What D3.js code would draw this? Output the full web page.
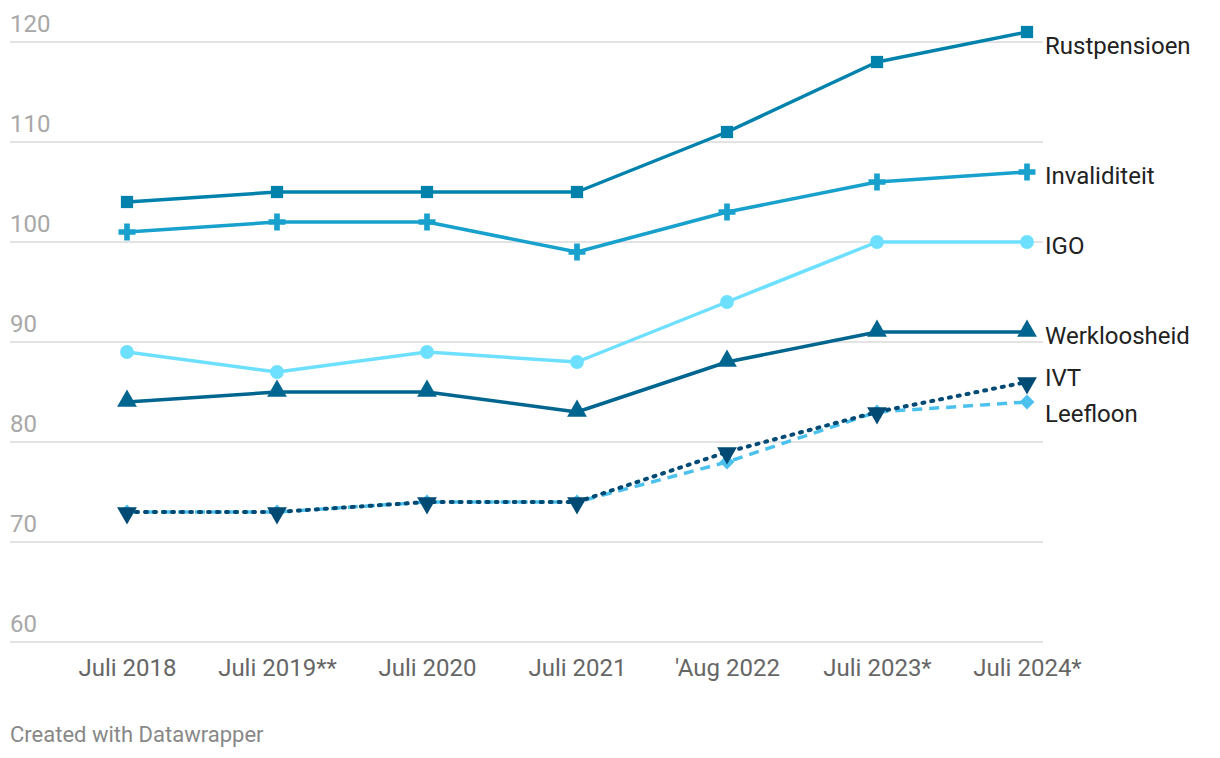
<!DOCTYPE html>
<html><head><meta charset="utf-8">
<script src="https://cdn.jsdelivr.net/npm/d3@7"></script>
<style>
html,body{margin:0;padding:0;background:#fff;}
svg{display:block;font-family:Roboto,"Noto Sans",sans-serif;}
</style></head>
<body><svg id="chart" width="1220" height="758"></svg>
<script>
const categories = ["Juli 2018","Juli 2019**","Juli 2020","Juli 2021","'Aug 2022","Juli 2023*","Juli 2024*"];
const rustpensioen = [104,105,105,105,111,118,121];
const invaliditeit = [101,102,102,99,103,106,107];
const igo = [89,87,89,88,94,100,100];
const werkloosheid = [84,85,85,83,88,91,91];
const ivt = [73,73,74,74,79,83,86];
const leefloon = [73,73,74,74,78,83,84];
const yTicks = [60,70,80,90,100,110,120];

const series = [
  {name:"Leefloon", values:leefloon, color:"#4cc1ee", dash:"10,7", marker:"diamond", labelY:414},
  {name:"IVT", values:ivt, color:"#004a74", dash:"2,7", cap:"round", marker:"triDown", labelY:378},
  {name:"Werkloosheid", values:werkloosheid, color:"#00668f", marker:"tri", labelY:336},
  {name:"IGO", values:igo, color:"#6ee0ff", marker:"circle", labelY:246},
  {name:"Invaliditeit", values:invaliditeit, color:"#18a1cd", marker:"plus", labelY:176},
  {name:"Rustpensioen", values:rustpensioen, color:"#0082ad", marker:"square", labelY:46}
];

const svg = d3.select("#chart");
const x = d3.scalePoint().domain(categories).range([127,1027]);
const y = d3.scaleLinear().domain([60,120]).range([642,42]);

// grid
const g = svg.append("g");
g.selectAll("line.grid").data(yTicks).join("line")
  .attr("x1",10).attr("x2",1043)
  .attr("y1",d=>y(d)).attr("y2",d=>y(d))
  .attr("stroke","#e3e3e3").attr("stroke-width",2);
g.selectAll("text.ytick").data(yTicks).join("text")
  .attr("x",10).attr("y",d=>y(d)-10)
  .attr("fill","#a8a8a8").attr("font-size",24)
  .text(d=>d);

// x axis
const xAxis = d3.axisBottom(x).tickSize(0).tickPadding(0);
const ax = svg.append("g").attr("transform","translate(0,650)").call(xAxis);
ax.select(".domain").remove();
ax.selectAll("text").attr("font-size",24).attr("fill","#666").attr("font-family","Roboto").attr("dy","0").attr("y",26);

const line = d3.line().x((d,i)=>x(categories[i])).y(d=>y(d));

series.forEach(s=>{
  svg.append("path").datum(s.values)
    .attr("d",line).attr("fill","none")
    .attr("stroke",s.color).attr("stroke-width",s.marker==="triDown"?4:3.5)
    .attr("stroke-dasharray",s.dash||null)
    .attr("stroke-linecap",s.cap||"butt")
    .attr("stroke-linejoin","round");
  const mg = svg.append("g");
  s.values.forEach((v,i)=>{
    const cx=x(categories[i]), cy=y(v);
    let sym, rot=0, dy=0;
    if(s.marker==="square") sym=d3.symbol(d3.symbolSquare,150);
    else if(s.marker==="plus") sym=d3.symbol(d3.symbolCross,160);
    else if(s.marker==="circle") sym=d3.symbol(d3.symbolCircle,150);
    else if(s.marker==="tri") {sym=d3.symbol(d3.symbolTriangle,170); dy=-1;}
    else if(s.marker==="triDown") {sym=d3.symbol(d3.symbolTriangle,170); rot=180; dy=1;}
    else {sym=d3.symbol(d3.symbolSquare,110); rot=45;}
    mg.append("path").attr("d",sym())
      .attr("transform",`translate(${cx},${cy+dy}) rotate(${rot})`)
      .attr("fill",s.color);
  });
  svg.append("text").attr("x",1045).attr("y",s.labelY).attr("dy","0.35em")
    .attr("font-size",24).attr("fill","#222").text(s.name);
});

svg.append("text").attr("x",10).attr("y",742).attr("font-size",22).attr("fill","#888").text("Created with Datawrapper");
</script></body></html>
